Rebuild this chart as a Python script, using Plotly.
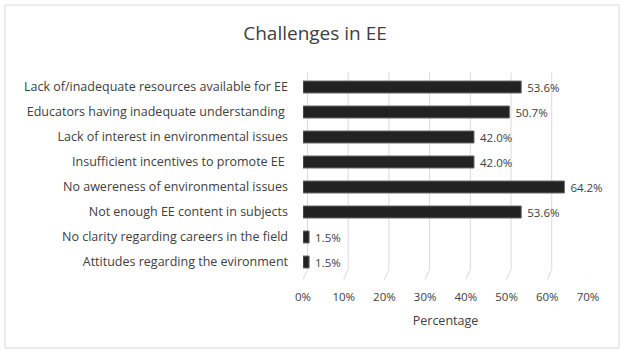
import plotly.graph_objects as go

# Survey results: challenges in environmental education (EE)
categories = [
    "Lack of/inadequate resources available for EE",
    "Educators having inadequate understanding ",
    "Lack of interest in environmental issues",
    "Insufficient incentives to promote EE ",
    "No awereness of environmental issues",
    "Not enough EE content in subjects",
    "No clarity regarding careers in the field",
    "Attitudes regarding the evironment",
]
percentages = [53.6, 50.7, 42.0, 42.0, 64.2, 53.6, 1.5, 1.5]
x_ticks = [0, 10, 20, 30, 40, 50, 60, 70]
x_tick_labels = [f"{v}%" for v in x_ticks]

W, H = 621, 351
L, R, T, B = 303, 33, 70, 69
FONT = "Open Sans, Arial, sans-serif"
TEXT = "#404040"

fig = go.Figure()
fig.add_trace(go.Bar(
    y=categories,
    x=percentages,
    orientation="h",
    width=0.48,
    marker=dict(color="#222222", line=dict(color="#6a6a6a", width=1)),
    text=percentages,
    texttemplate=" %{x:.1f}%",
    textposition="outside",
    constraintext="none",
    textfont=dict(size=11.5, color=TEXT, family=FONT),
    cliponaxis=False,
    hoverinfo="skip",
))

# 3D-style gridlines: vertical wall lines with a short slanted floor edge
shapes = []
y_top, y_bot = -0.68, 7.8
for v in x_ticks:
    shapes.append(dict(
        type="path", xref="x", yref="y",
        path=f"M {v + 1.1},{y_top + 0.1} L {v + 1.1},{7.3} L {v},{7.7}",
        line=dict(color="#d9d9d9", width=1),
        layer="below",
    ))

# Chart-area border
pw = W - L - R
ph = H - T - B
def px(x):
    return (x - L) / pw
def py(y):
    return 1 - (y - T) / ph
shapes.append(dict(
    type="rect", xref="paper", yref="paper",
    x0=px(5), x1=px(619), y0=py(5), y1=py(348),
    line=dict(color="#d9d9d9", width=1),
))

fig.update_layout(
    width=W, height=H,
    margin=dict(l=L, r=R, t=T, b=B),
    paper_bgcolor="white",
    plot_bgcolor="white",
    showlegend=False,
    shapes=shapes,
    title=dict(
        text="Challenges in EE",
        x=315 / W, xref="container", xanchor="center",
        y=1 - 33 / H, yref="container", yanchor="middle",
        font=dict(size=19, color=TEXT, family=FONT),
    ),
    xaxis=dict(
        range=[0, 70],
        tickvals=x_ticks,
        ticktext=x_tick_labels,
        showgrid=False,
        zeroline=False,
        showline=False,
        ticks="",
        ticklabelstandoff=6,
        tickfont=dict(size=11.5, color=TEXT, family=FONT),
        title=dict(text="Percentage", standoff=13,
                   font=dict(size=12.5, color=TEXT, family=FONT)),
    ),
    yaxis=dict(
        type="category",
        categoryorder="array",
        categoryarray=categories,
        range=[y_bot, y_top],
        showgrid=False,
        zeroline=False,
        showline=False,
        ticks="",
        ticklabelstandoff=14,
        tickfont=dict(size=12.5, color=TEXT, family=FONT),
    ),
)

fig.write_html("out.html")
